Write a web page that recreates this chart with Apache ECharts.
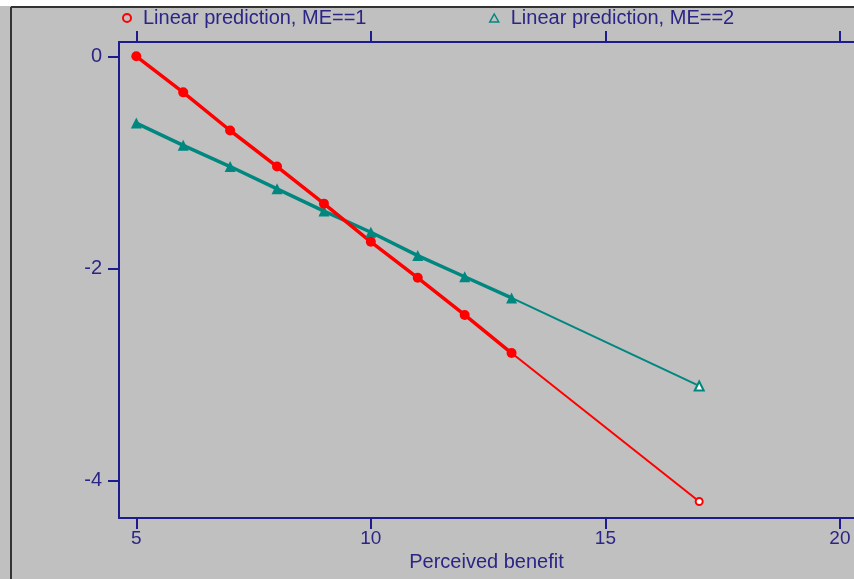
<!DOCTYPE html>
<html><head><meta charset="utf-8">
<script src="https://cdn.jsdelivr.net/npm/echarts@6/dist/echarts.min.js"></script>
<style>html,body{margin:0;padding:0;background:#c0c0c0;overflow:hidden}#c{width:854px;height:579px}</style>
</head><body><div id="c"></div>
<script>
const xValues = [5, 6, 7, 8, 9, 10, 11, 12, 13, 17];
const me1 = [0.00, -0.34, -0.70, -1.04, -1.39, -1.75, -2.09, -2.44, -2.80, -4.20];
const me2 = [-0.63, -0.84, -1.04, -1.25, -1.46, -1.66, -1.88, -2.08, -2.28, -3.11];
const xTicks = [5, 10, 15, 20];
const yTicks = [0, -2, -4];
const seriesNames = ['Linear prediction, ME==1', 'Linear prediction, ME==2'];
const xTitle = 'Perceived benefit';

const RED = '#ff0000', TEAL = '#00877f', NAVY = '#1c1c8e', TXT = '#2b2585';
const FONT = 'Liberation Sans';
const pairs = ys => xValues.map((x, i) => [x, ys[i]]);
const mainPart = ys => pairs(ys).slice(0, 9);
const tailPart = ys => pairs(ys).slice(8);

const chart = echarts.init(document.getElementById('c'));
const axisCommon = {
  type: 'value', min: 4.631, max: 20.3,
  axisLine: { show: true, onZero: false, lineStyle: { color: NAVY, width: 2 } },
  axisTick: { show: true, length: 11, customValues: xTicks, lineStyle: { color: NAVY, width: 2 } },
  splitLine: { show: false }
};
chart.setOption({
  animation: false,
  backgroundColor: '#c0c0c0',
  graphic: [
    { type: 'rect', shape: { x: 0, y: 0, width: 854, height: 6 }, style: { fill: '#ffffff' } },
    { type: 'line', shape: { x1: 11, y1: 7, x2: 854, y2: 7 }, style: { stroke: '#333333', lineWidth: 2 } },
    { type: 'line', shape: { x1: 11, y1: 7, x2: 11, y2: 579 }, style: { stroke: '#333333', lineWidth: 2 } }
  ],
  legend: [
    { left: 122, top: 8, padding: 0, itemWidth: 8, itemHeight: 8,
      textStyle: { color: TXT, fontFamily: FONT, fontSize: 20, padding: [0, 0, 0, 7] },
      data: [{ name: seriesNames[0], icon: 'circle', itemStyle: { color: '#c0c0c0', borderColor: RED, borderWidth: 2 } }] },
    { left: 489, top: 8, padding: 0, itemWidth: 9, itemHeight: 8,
      textStyle: { color: TXT, fontFamily: FONT, fontSize: 20, padding: [0, 0, 0, 7] },
      data: [{ name: seriesNames[1], icon: 'triangle', itemStyle: { color: '#c0c0c0', borderColor: TEAL, borderWidth: 1.5 } }] }
  ],
  grid: { left: 119, right: 0, top: 42, bottom: 61, containLabel: false },
  xAxis: [
    Object.assign({}, axisCommon, {
      position: 'bottom',
      name: xTitle, nameLocation: 'middle', nameGap: 25,
      nameTextStyle: { color: TXT, fontFamily: FONT, fontSize: 20 },
      axisLabel: { show: true, customValues: xTicks, margin: 11, color: TXT, fontFamily: FONT, fontSize: 19 }
    }),
    Object.assign({}, axisCommon, { position: 'top', axisLabel: { show: false } })
  ],
  yAxis: {
    type: 'value', min: -4.356, max: 0.135,
    axisLine: { show: true, onZero: false, lineStyle: { color: NAVY, width: 2 } },
    axisTick: { show: true, length: 11, customValues: yTicks, lineStyle: { color: NAVY, width: 2 } },
    axisLabel: { show: true, customValues: yTicks, margin: 17, color: TXT, fontFamily: FONT, fontSize: 20 },
    splitLine: { show: false }
  },
  series: [
    { name: seriesNames[1], type: 'line', xAxisIndex: 0, data: tailPart(me2),
      lineStyle: { color: TEAL, width: 2 }, itemStyle: { color: TEAL },
      symbol: (v, p) => p.dataIndex === 0 ? 'none' : 'emptyTriangle', symbolSize: 9 },
    { name: seriesNames[0], type: 'line', xAxisIndex: 0, data: tailPart(me1),
      lineStyle: { color: RED, width: 2 }, itemStyle: { color: RED, borderWidth: 2 },
      symbol: (v, p) => p.dataIndex === 0 ? 'none' : 'emptyCircle', symbolSize: 7 },
    { name: seriesNames[1], type: 'line', xAxisIndex: 0, data: mainPart(me2),
      lineStyle: { color: TEAL, width: 3.5 }, itemStyle: { color: TEAL },
      symbol: 'triangle', symbolSize: 11 },
    { name: seriesNames[0], type: 'line', xAxisIndex: 0, data: mainPart(me1),
      lineStyle: { color: RED, width: 3.5 }, itemStyle: { color: RED },
      symbol: 'circle', symbolSize: 10 }
  ]
});
</script></body></html>
